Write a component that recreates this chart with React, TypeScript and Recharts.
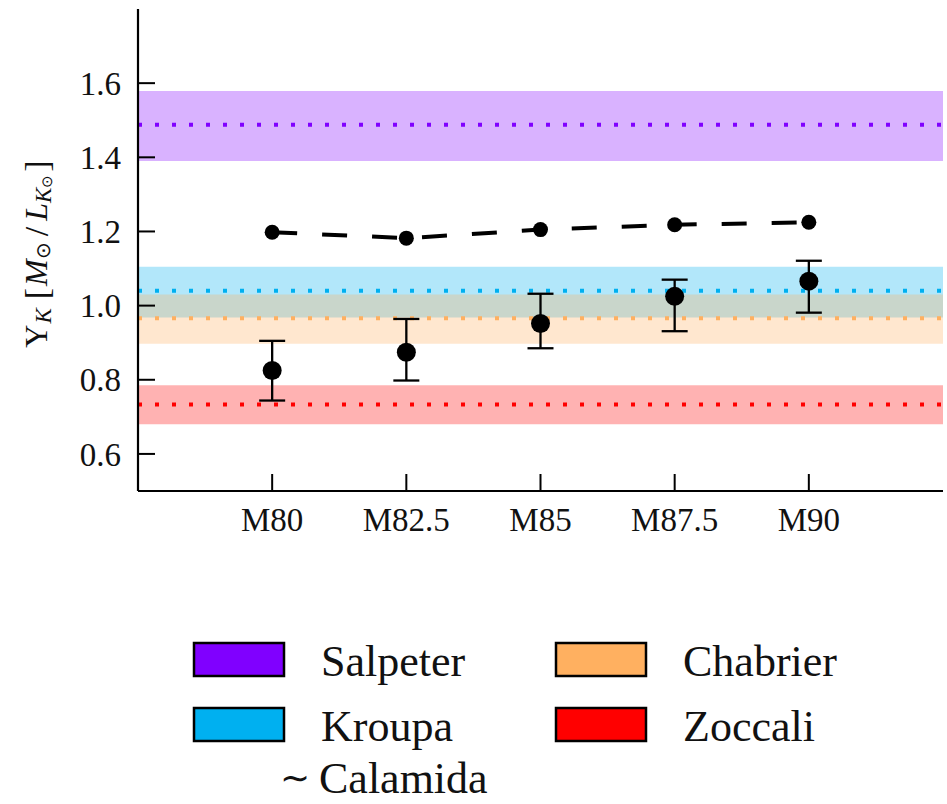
import React from 'react';
import {
  ComposedChart,
  Line,
  XAxis,
  YAxis,
  ReferenceArea,
  ReferenceLine,
  ErrorBar,
  Legend,
} from 'recharts';

// ---- data ----
const categories = ['M80', 'M82.5', 'M85', 'M87.5', 'M90'];
const calamidaValues = [1.198, 1.182, 1.205, 1.218, 1.225];
const measuredValues = [0.825, 0.874, 0.952, 1.025, 1.066];
const errorMinus = [0.081, 0.076, 0.067, 0.094, 0.085];
const errorPlus = [0.08, 0.09, 0.08, 0.045, 0.055];

const imfNames = ['Salpeter', 'Kroupa', 'Chabrier', 'Zoccali'];
const imfCentral = [1.488, 1.04, 0.966, 0.733];
const imfLow = [1.39, 0.968, 0.897, 0.68];
const imfHigh = [1.579, 1.105, 1.03, 0.785];
const imfColors = ['#8000ff', '#00b0f0', '#ffb060', '#ff0000'];

const legendOrder = ['Salpeter', 'Chabrier', 'Kroupa', 'Zoccali'];
const calamidaLabel = 'Calamida';

const yTicks = [0.6, 0.8, 1.0, 1.2, 1.4, 1.6];
const yDomain = [0.5, 1.8];
const xDomain = [-1, 5];

const data = categories.map((c, i) => ({
  x: i,
  cat: c,
  cal: calamidaValues[i],
  pt: measuredValues[i],
  err: [errorMinus[i], errorPlus[i]],
}));

const FONT = "'Liberation Serif', 'Times New Roman', Times, serif";
const fontStyle = { fontFamily: FONT };

const YLabel = () => (
  <text
    transform="rotate(-90, 36, 254)"
    x={36}
    y={254}
    textAnchor="middle"
    dominantBaseline="central"
    style={fontStyle}
    fontSize={32}
    fill="#111"
  >
    <tspan>Υ</tspan>
    <tspan fontStyle="italic" fontSize={23} dy={7} dx={1}>K</tspan>
    <tspan dy={-7} dx={9} fontSize={34}>[</tspan>
    <tspan fontStyle="italic" dx={2}>M</tspan>
    <tspan fontSize={20} dy={7}>⊙</tspan>
    <tspan dy={-7} dx={6} fontSize={34}>/</tspan>
    <tspan fontStyle="italic" dx={6}>L</tspan>
    <tspan fontStyle="italic" fontSize={23} dy={7}>K</tspan>
    <tspan fontSize={15} dy={4}>⊙</tspan>
    <tspan dy={-11} dx={3} fontSize={34}>]</tspan>
  </text>
);

const renderLegend = () => (
  <svg width={947} height={174} style={{ display: 'block' }}>
    {legendOrder.map((name, i) => {
      const idx = imfNames.indexOf(name);
      const col = i % 2;
      const row = Math.floor(i / 2);
      const sx = 194 + col * 362;
      const sy = 13 + row * 65;
      return (
        <g key={name}>
          <rect x={sx} y={sy} width={90} height={33} fill={imfColors[idx]} stroke="#000" strokeWidth={2.5} />
          <text x={sx + 127} y={sy + 33} style={fontStyle} fontSize={44} fill="#111">
            {name}
          </text>
        </g>
      );
    })}
    <text x={280} y={163} style={fontStyle} fontSize={44} fill="#111">
      <tspan fontSize={36} dy={-3}>∼</tspan>
      <tspan x={319} dy={3}>{calamidaLabel}</tspan>
    </text>
  </svg>
);

export default function App() {
  return (
    <div style={{ position: 'absolute', left: 0, top: 0, width: 947, height: 804, background: '#fff' }}>
      <ComposedChart
        width={947}
        height={804}
        data={data}
        margin={{ top: 9, right: 4, left: 38, bottom: 253 }}
      >
        <XAxis
          xAxisId="main"
          dataKey="x"
          type="number"
          domain={xDomain}
          ticks={[0, 1, 2, 3, 4]}
          tickFormatter={(v: number) => categories[v] ?? ''}
          height={60}
          tickSize={-17}
          tickMargin={34}
          axisLine={{ stroke: '#000', strokeWidth: 2.2 }}
          tickLine={{ stroke: '#000', strokeWidth: 2 }}
          tick={{ style: fontStyle, fontSize: 33, fill: '#111' }}
          allowDataOverflow
        />
        <XAxis
          xAxisId="top"
          orientation="top"
          dataKey="x"
          type="number"
          domain={xDomain}
          ticks={[0, 1, 2, 3, 4]}
          tickFormatter={() => ''}
          height={0}
          tickSize={-16}
          axisLine={{ stroke: '#000', strokeWidth: 2.2 }}
          tickLine={{ stroke: '#000', strokeWidth: 2 }}
          allowDataOverflow
        />
        <YAxis
          yAxisId="main"
          type="number"
          domain={yDomain}
          ticks={yTicks}
          tickFormatter={(v: number) => v.toFixed(1)}
          width={100}
          tickSize={-17}
          tickMargin={34}
          axisLine={{ stroke: '#000', strokeWidth: 2.2 }}
          tickLine={{ stroke: '#000', strokeWidth: 2 }}
          tick={{ style: fontStyle, fontSize: 33, fill: '#111' }}
          label={{ content: () => <YLabel /> }}
          allowDataOverflow
        />
        <YAxis
          yAxisId="right"
          orientation="right"
          type="number"
          domain={yDomain}
          ticks={yTicks}
          tickFormatter={() => ''}
          width={0}
          tickSize={-17}
          axisLine={{ stroke: '#000', strokeWidth: 2.2 }}
          tickLine={{ stroke: '#000', strokeWidth: 2 }}
          allowDataOverflow
        />

        {imfNames.map((name, i) => (
          <ReferenceArea
            key={'area-' + name}
            xAxisId="main"
            yAxisId="main"
            y1={imfLow[i]}
            y2={imfHigh[i]}
            fill={imfColors[i]}
            fillOpacity={0.3}
            stroke="none"
            ifOverflow="hidden"
          />
        ))}
        {imfNames.map((name, i) => (
          <ReferenceLine
            key={'line-' + name}
            xAxisId="main"
            yAxisId="main"
            y={imfCentral[i]}
            stroke={imfColors[i]}
            strokeWidth={4}
            strokeDasharray="4 13"
          />
        ))}

        <Line
          xAxisId="main"
          yAxisId="main"
          dataKey="cal"
          name={calamidaLabel}
          stroke="#000"
          strokeWidth={4}
          strokeDasharray="25 25"
          dot={{ r: 7.5, fill: '#000', stroke: 'none' }}
          activeDot={false}
          isAnimationActive={false}
        />
        <Line
          xAxisId="main"
          yAxisId="main"
          dataKey="pt"
          stroke="none"
          dot={{ r: 9.5, fill: '#000', stroke: 'none' }}
          activeDot={false}
          isAnimationActive={false}
        >
          <ErrorBar dataKey="err" direction="y" width={13} stroke="#000" strokeWidth={2.3} isAnimationActive={false} />
        </Line>

        <Legend
          layout="horizontal"
          verticalAlign="middle"
          align="center"
          content={renderLegend}
          wrapperStyle={{ position: 'absolute', left: 0, top: 630, width: 947, height: 174 }}
        />
      </ComposedChart>
    </div>
  );
}
